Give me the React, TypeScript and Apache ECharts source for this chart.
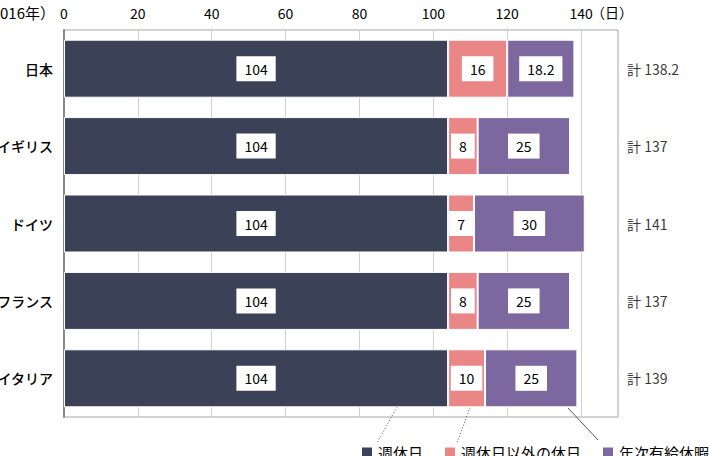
import React, { useEffect, useRef } from "react";
import * as echarts from "echarts";

const categories = ["日本", "イギリス", "ドイツ", "フランス", "イタリア"];
const weeklyHolidays = [104, 104, 104, 104, 104];
const otherHolidays = [16, 8, 7, 8, 10];
const paidLeave = [18.2, 25, 30, 25, 25];
const totals = [138.2, 137, 141, 137, 139];
const seriesNames = ["週休日", "週休日以外の休日", "年次有給休暇"];
const colors = ["#3b4257", "#eb8686", "#7c689f"];
const axisTicks = { min: 0, max: 150, interval: 20 };

const FONT = "'Noto Sans CJK JP', 'Noto Sans', sans-serif";

export default function App() {
  const ref = useRef<HTMLDivElement>(null);
  useEffect(() => {
    document.body.style.margin = "0";
    const chart = echarts.init(ref.current!, null, { renderer: "svg" });
    const labelCfg = {
      show: true,
      position: "inside",
      color: "#000",
      fontSize: 14,
      fontFamily: FONT,
      backgroundColor: "#fff",
      padding: [6, 8, 5, 8],
    };
    const bar = (name: string, data: number[], color: string) => ({
      name,
      type: "bar",
      stack: "total",
      data,
      barWidth: 58,
      itemStyle: { color, borderColor: "#fff", borderWidth: 1 },
      label: labelCfg,
    });
    chart.setOption({
      animation: false,
      textStyle: { fontFamily: FONT },
      grid: {
        left: 64,
        right: 91,
        top: 30,
        bottom: 39,
        show: true,
        borderColor: "#a6a6a6",
        borderWidth: 1,
        containLabel: false,
        outerBoundsMode: "none",
      },
      xAxis: {
        type: "value",
        position: "top",
        min: axisTicks.min,
        max: axisTicks.max,
        interval: axisTicks.interval,
        axisLine: { show: false },
        axisTick: { show: false },
        axisLabel: {
          color: "#000",
          fontSize: 14,
          margin: 10,
          fontFamily: FONT,
          formatter: (v: number) => (v <= 140 ? String(v) : ""),
        },
        splitLine: { show: true, lineStyle: { color: "#d0d0d0", width: 1 } },
      },
      yAxis: {
        type: "category",
        data: categories,
        inverse: true,
        axisLine: { show: true, lineStyle: { color: "#8a8a8a", width: 2 } },
        axisTick: { show: false },
        axisLabel: {
          color: "#000",
          fontSize: 14,
          margin: 11,
          fontFamily: FONT,
          fontWeight: 500,
        },
      },
      legend: {
        data: seriesNames,
        left: 360,
        top: 445,
        width: 600,
        padding: 0,
        itemWidth: 12,
        itemHeight: 12,
        itemGap: 20,
        icon: "rect",
        textStyle: { fontSize: 15, color: "#000", fontFamily: FONT },
      },
      series: [
        bar(seriesNames[0], weeklyHolidays, colors[0]),
        bar(seriesNames[1], otherHolidays, colors[1]),
        bar(seriesNames[2], paidLeave, colors[2]),
        {
          type: "scatter",
          name: "total",
          data: totals.map((_, i) => [axisTicks.max, categories[i]]),
          symbolSize: 0,
          silent: true,
          clip: false,
          label: {
            show: true,
            position: "right",
            distance: 9,
            color: "#000",
            fontSize: 14,
            fontFamily: FONT,
            formatter: (p: any) => "計 " + totals[p.dataIndex],
          },
        },
      ],
      graphic: [
        {
          type: "text",
          x: 55,
          y: 12,
          style: {
            text: "（2016年）",
            fill: "#000",
            fontSize: 15,
            fontFamily: FONT,
            align: "right",
            verticalAlign: "middle",
          },
        },
        {
          type: "text",
          x: 591,
          y: 12,
          style: {
            text: "（日）",
            fill: "#000",
            fontSize: 14,
            fontFamily: FONT,
            align: "left",
            verticalAlign: "middle",
          },
        },
        {
          type: "line",
          shape: { x1: 397, y1: 407, x2: 377, y2: 443 },
          style: { stroke: "#555", lineWidth: 1, lineDash: [1, 2] },
        },
        {
          type: "line",
          shape: { x1: 472, y1: 402, x2: 457, y2: 443 },
          style: { stroke: "#555", lineWidth: 1, lineDash: [1, 2] },
        },
        {
          type: "line",
          shape: { x1: 568, y1: 408, x2: 598, y2: 440 },
          style: { stroke: "#555", lineWidth: 1 },
        },
      ],
    });
    return () => chart.dispose();
  }, []);
  return <div ref={ref} style={{ width: 709, height: 456 }} />;
}
